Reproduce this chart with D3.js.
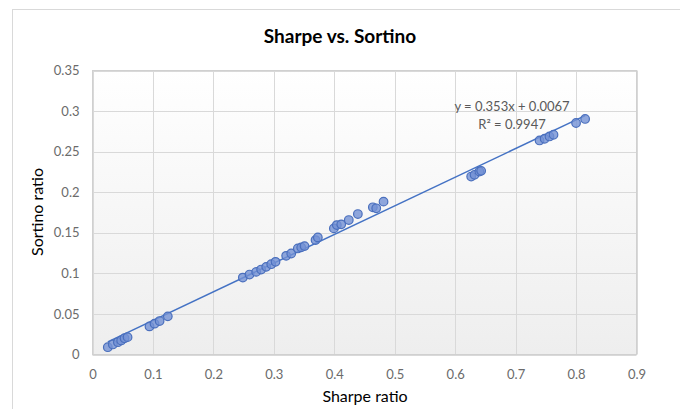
<!DOCTYPE html>
<html><head><meta charset="utf-8">
<script src="https://cdn.jsdelivr.net/npm/d3@7"></script>
<style>body{margin:0;background:#fff;}svg{display:block;font-family:Lato,"Open Sans",sans-serif;}</style>
</head><body>
<svg id="c" width="680" height="409"></svg>
<script>
const sharpe = [0.0253,0.0336,0.042,0.0474,0.053,0.058,
  0.0943,0.1026,0.111,0.1246,
  0.2487,0.2598,0.2708,0.279,0.2874,0.2957,0.3028,0.3204,0.3288,0.3397,0.3453,0.3508,0.369,0.3728,
  0.3993,0.4042,0.4115,0.424,0.439,0.4638,0.4694,0.4815,
  0.6265,0.632,0.640,0.643,0.7396,0.748,0.756,0.7627,0.800,0.815];
const sortino = [0.009,0.0124,0.0152,0.0173,0.020,0.0214,
  0.0346,0.038,0.0412,0.047,
  0.0948,0.0985,0.1018,0.1047,0.108,0.1113,0.1142,0.1216,0.1245,0.1307,0.132,0.1336,0.141,0.1443,
  0.1554,0.1595,0.1604,0.1657,0.1731,0.1814,0.1802,0.1884,
  0.2193,0.2214,0.2255,0.2263,0.2638,0.2659,0.2687,0.2708,0.2853,0.2903];
const xTicks = [0,0.1,0.2,0.3,0.4,0.5,0.6,0.7,0.8,0.9];
const yTicks = [0,0.05,0.1,0.15,0.2,0.25,0.3,0.35];
const slope = 0.353, intercept = 0.0067;
const eqLabel = "y = 0.353x + 0.0067", r2Label = "R² = 0.9947";
const title = "Sharpe vs. Sortino", xTitle = "Sharpe ratio", yTitle = "Sortino ratio";

const svg = d3.select("#c");
const L = 92.5, R = 636.5, T = 70.5, B = 354.5;
const x = d3.scaleLinear().domain([0,0.9]).range([L,R]);
const y = d3.scaleLinear().domain([0,0.35]).range([B,T]);

svg.append("rect").attr("x",12.5).attr("y",9.5).attr("width",700).attr("height",420)
  .attr("fill","#fff").attr("stroke","#d9d9d9");

const defs = svg.append("defs");
const g = defs.append("linearGradient").attr("id","bg").attr("x1",0).attr("y1",0).attr("x2",0).attr("y2",1);
g.append("stop").attr("offset","0%").attr("stop-color","#ffffff");
g.append("stop").attr("offset","100%").attr("stop-color","#eeeeee");
svg.append("rect").attr("x",L).attr("y",T).attr("width",R-L).attr("height",B-T).attr("fill","url(#bg)");

svg.append("g").selectAll("line").data(xTicks).join("line")
  .attr("x1",d=>Math.round(x(d))+0.5).attr("x2",d=>Math.round(x(d))+0.5).attr("y1",T).attr("y2",B)
  .attr("stroke","#d9d9d9");
svg.append("g").selectAll("line").data(yTicks).join("line")
  .attr("y1",d=>Math.round(y(d))+0.5).attr("y2",d=>Math.round(y(d))+0.5).attr("x1",L).attr("x2",R)
  .attr("stroke","#d9d9d9");
svg.append("rect").attr("x",L).attr("y",T).attr("width",R-L).attr("height",B-T)
  .attr("fill","none").attr("stroke","#d0d0d0");

const xa = svg.append("g").attr("transform",`translate(0,${B})`)
  .call(d3.axisBottom(x).tickValues(xTicks).tickSize(0).tickPadding(15).tickFormat(d=>String(d)));
const ya = svg.append("g").attr("transform",`translate(${L},0)`)
  .call(d3.axisLeft(y).tickValues(yTicks).tickSize(0).tickPadding(13).tickFormat(d=>String(d)));
[xa,ya].forEach(a=>{a.select(".domain").remove();
  a.selectAll("text").attr("fill","#6b6b6b").style("font-size","13px").style("font-family","Lato,sans-serif");});

const xmin = d3.min(sharpe), xmax = d3.max(sharpe);
svg.append("line").attr("x1",x(xmin)).attr("y1",y(slope*xmin+intercept))
  .attr("x2",x(xmax)).attr("y2",y(slope*xmax+intercept))
  .attr("stroke","#4472c4").attr("stroke-width",1.5);

svg.append("g").selectAll("circle").data(sharpe.map((d,i)=>[d,sortino[i]])).join("circle")
  .attr("cx",d=>x(d[0])).attr("cy",d=>y(d[1])).attr("r",4.3)
  .attr("fill","#7391d4").attr("fill-opacity",0.8).attr("stroke","#4a6fbd").attr("stroke-width",1.2);

svg.append("text").attr("x",512).attr("y",111).attr("text-anchor","middle")
  .attr("fill","#595959").style("font-size","13px").text(eqLabel);
svg.append("text").attr("x",512).attr("y",129).attr("text-anchor","middle")
  .attr("fill","#595959").style("font-size","13px").text(r2Label);

svg.append("text").attr("x",340).attr("y",43).attr("text-anchor","middle")
  .style("font-size","19px").style("font-weight","bold").attr("fill","#000").text(title);
svg.append("text").attr("x",365).attr("y",402).attr("text-anchor","middle")
  .style("font-size","16px").attr("fill","#000").text(xTitle);
svg.append("text").attr("transform","translate(43,212) rotate(-90)").attr("text-anchor","middle")
  .style("font-size","16px").attr("fill","#000").text(yTitle);
</script>
</body></html>
